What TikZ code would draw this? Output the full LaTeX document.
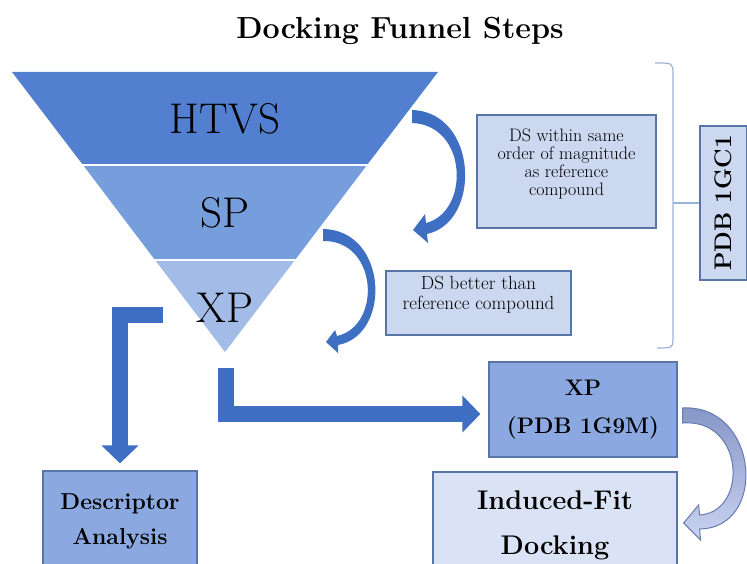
\documentclass[tikz,border=0pt]{standalone}
\usepackage{fontspec}
\usetikzlibrary{arrows.meta}

\definecolor{bandtop}{RGB}{82,127,207}
\definecolor{bandmid}{RGB}{119,158,220}
\definecolor{bandlow}{RGB}{162,188,231}
\definecolor{arrowblue}{RGB}{63,111,194}
\definecolor{boxmid}{RGB}{139,169,224}
\definecolor{boxlight}{RGB}{203,216,240}
\definecolor{boxpale}{RGB}{218,227,245}
\definecolor{boxline}{RGB}{88,117,168}
\definecolor{bracketline}{RGB}{157,178,216}
\definecolor{fadetop}{RGB}{132,149,198}
\definecolor{fadebot}{RGB}{202,211,241}
\definecolor{fadeline}{RGB}{104,122,176}

\begin{document}
\begin{tikzpicture}[
  x={(1pt,0pt)},
  y={(0pt,-1pt)},
  box/.style={draw=boxline, line width=1.2pt, align=center, inner sep=0pt},
  funneltext/.style={font=\fontsize{43}{50}\selectfont},
  elbow/.style={draw=arrowblue, line width=16pt,
    -{Triangle[width=36pt,length=18pt]}},
  bracket/.style={draw=bracketline, line width=1.2pt}
]
\path[use as bounding box] (0,0) rectangle (747,564);
\clip (0,0) rectangle (747,564);

\node[font=\bfseries\fontsize{30.5}{36}\selectfont] (title) at (400,31) {Docking Funnel Steps};

% funnel
\fill[bandtop] (12,72) -- (438,72) -- (367,165) -- (83,165) -- cycle;
\fill[bandmid] (83,165) -- (367,165) -- (295,260) -- (155,260) -- cycle;
\fill[bandlow] (155,260) -- (295,260) -- (225,352) -- cycle;
\draw[white, line width=2pt] (80,165) -- (370,165) (152,260) -- (298,260);

\node[funneltext] (htvs) at (225,119) {HTVS};
\node[funneltext] (sp) at (225,213) {SP};
\node[funneltext] (xp) at (225,308) {XP};

% boxes (an empty last line lifts the text a little)
\node[box, fill=boxlight, minimum width=179pt, minimum height=113pt,
  font=\fontsize{18}{18}\selectfont] (magbox) at (566.5,171.5)
  {DS within same\\order of magnitude\\as reference\\compound\\\mbox{}};
\node[box, fill=boxlight, minimum width=185pt, minimum height=64pt,
  font=\fontsize{19}{20.5}\selectfont] (betterbox) at (478.5,303)
  {DS better than\\reference compound\\\mbox{}};
\node[box, fill=boxlight, minimum width=154pt, minimum height=47pt, rotate=90,
  font=\bfseries\fontsize{24}{28}\selectfont] (pdbbox) at (723.5,203) {PDB 1GC1};
\node[box, fill=boxmid, minimum width=188pt, minimum height=95pt,
  font=\bfseries\fontsize{22.5}{38}\selectfont] (xpbox) at (583,409.5) {XP\\(PDB 1G9M)};
\node[box, fill=boxpale, minimum width=244pt, minimum height=106pt,
  font=\bfseries\fontsize{27}{45}\selectfont] (fitbox) at (555,525) {Induced-Fit\\Docking};
\node[box, fill=boxmid, minimum width=154pt, minimum height=100pt,
  font=\bfseries\fontsize{23}{35}\selectfont] (descbox) at (120,521) {Descriptor\\Analysis};

% bracket
\draw[bracket] (655,63) .. controls (673,63) .. (673,74) -- (673,336)
  .. controls (673,348) .. (657,348);
\coordinate (bracetip) at (673,203);
\draw[bracket] (bracetip) -- (pdbbox.north);

% curved arrows
\fill[arrowblue]
(412,110)
.. controls +(66,2) and +(55,-12) .. ++(15,124)
-- ++(1,9)
-- ++(-15,-13)
-- ++(12,-16)
-- ++(1,9)
.. controls +(44,-11) and +(56,2) .. ++(-14,-100)
-- cycle;

\fill[arrowblue]
(323,229)
.. controls +(65,1) and +(54,-10) .. ++(15,116)
-- ++(0,8)
-- ++(-12,-11)
-- ++(9,-12)
-- ++(2,6)
.. controls +(45,-10) and +(55,-1) .. ++(-14,-95)
-- cycle;

\path[draw=fadeline, line width=1pt, top color=fadetop, bottom color=fadebot]
([xshift=5pt,yshift=1.5pt]xpbox.east)
.. controls +(76,-4) and +(69,-1) .. ++(17,121)
-- ++(1,11)
-- ++(-17,-17)
-- ++(15,-18)
-- ++(1,10)
.. controls +(49,-3) and +(62,-5) .. ++(-17,-92)
-- cycle;

% elbow arrows
\coordinate (leftstem) at (163,315);
\coordinate (rightstem) at (226,368);
\draw[elbow] (leftstem) -| ([yshift=7pt]descbox.north);
\draw[elbow] (rightstem) |- ([xshift=-8pt,yshift=-4.5pt]xpbox.west);
\end{tikzpicture}
\end{document}
